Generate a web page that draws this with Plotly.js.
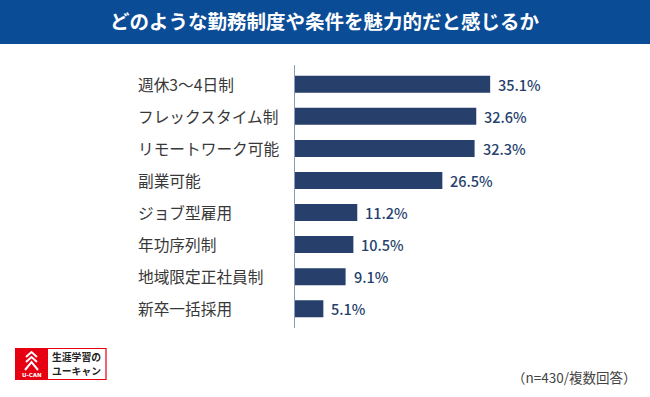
<!DOCTYPE html>
<html><head><meta charset="utf-8">
<script src="https://cdn.plot.ly/plotly-3.0.1.min.js"></script>
<style>html,body{margin:0;padding:0;background:#fff}#c{width:650px;height:397px}</style>
</head><body><div id="c"></div>
<script>
var categories = ["週休3～4日制","フレックスタイム制","リモートワーク可能","副業可能","ジョブ型雇用","年功序列制","地域限定正社員制","新卒一括採用"];
var values = [35.1, 32.6, 32.3, 26.5, 11.2, 10.5, 9.1, 5.1];
var titleText = "どのような勤務制度や条件を魅力的だと感じるか";
var noteText = "（n=430/複数回答）";
var logoLines = ["生涯学習の","ユーキャン"];

var W=650,H=397, L=295, R=77, T=65, B=69;
var pw=W-L-R, ph=H-T-B;
function px(x){return (x-L)/pw;}
function py(y){return (H-B-y)/ph;}
var JP = '"Noto Sans CJK JP", "Noto Sans", sans-serif';

var trace = {
  type:'bar', orientation:'h', x:values, y:categories,
  marker:{color:'#263f6b'}, width:0.53,
  textposition:'none', hoverinfo:'skip'
};

var annotations = [];
categories.forEach(function(c,i){
  annotations.push({xref:'paper',yref:'y',x:px(136),y:c,text:c,showarrow:false,xanchor:'left',
    font:{family:JP,size:15.7,color:'#383838'}});
  annotations.push({xref:'x',yref:'y',x:values[i],y:c,text:values[i].toFixed(1)+'%',showarrow:false,xanchor:'left',xshift:6,
    font:{family:JP,size:14.5,color:'#263f6b',weight:500}});
});
annotations.push({xref:'paper',yref:'paper',x:px(325),y:py(21),text:'<b>'+titleText+'</b>',showarrow:false,
  xanchor:'center',yanchor:'middle',font:{family:JP,size:19.5,color:'#ffffff'}});
annotations.push({xref:'paper',yref:'paper',x:px(639),y:py(377),text:noteText,showarrow:false,
  xanchor:'right',yanchor:'middle',font:{family:JP,size:13.5,color:'#444444'}});
annotations.push({xref:'paper',yref:'paper',x:px(76),y:py(357),text:'<b>'+logoLines[0]+'</b>',showarrow:false,
  xanchor:'center',yanchor:'middle',font:{family:JP,size:9.8,color:'#222222'}});
annotations.push({xref:'paper',yref:'paper',x:px(76),y:py(371),text:'<b>'+logoLines[1]+'</b>',showarrow:false,
  xanchor:'center',yanchor:'middle',font:{family:JP,size:9.8,color:'#222222'}});
annotations.push({xref:'paper',yref:'paper',x:px(31.5),y:py(374.5),text:'<b>U-CAN</b>',showarrow:false,
  xanchor:'center',yanchor:'middle',font:{family:'DejaVu Sans',size:5.5,color:'#ffffff'}});

function Pl(pts){ return 'M'+pts.map(function(p){return px(p[0])+','+py(p[1]);}).join(' L'); }

var shapes = [
  {type:'rect',xref:'paper',yref:'paper',x0:px(0),x1:px(650),y0:py(0),y1:py(44),fillcolor:'#0b4c97',line:{width:0},layer:'below'},
  {type:'rect',xref:'paper',yref:'paper',x0:px(47),x1:px(106),y0:py(348.5),y1:py(379.5),fillcolor:'#ffffff',line:{color:'#e60012',width:1.2}},
  {type:'rect',xref:'paper',yref:'paper',x0:px(15),x1:px(48),y0:py(348),y1:py(380),fillcolor:'#e60012',line:{width:0}},
  {type:'path',xref:'paper',yref:'paper',path:Pl([[26,357],[31.5,352],[37,357]]),line:{color:'#ffffff',width:2}},
  {type:'path',xref:'paper',yref:'paper',path:Pl([[26,362],[31.5,357],[37,362]]),line:{color:'#ffffff',width:2}},
  {type:'path',xref:'paper',yref:'paper',path:Pl([[25,370],[31.5,362],[38,370]]),line:{color:'#ffffff',width:2}}
];

var layout = {
  width:W,height:H,margin:{l:L,r:R,t:T,b:B},
  paper_bgcolor:'#ffffff',plot_bgcolor:'rgba(0,0,0,0)',
  showlegend:false,
  xaxis:{range:[0,50],visible:false,fixedrange:true},
  yaxis:{type:'category',range:[7.6,-0.6],showticklabels:false,ticks:'',showgrid:false,zeroline:false,
    showline:true,linecolor:'#8c9cb8',linewidth:1.5,fixedrange:true},
  annotations:annotations, shapes:shapes
};
Plotly.newPlot('c',[trace],layout,{displayModeBar:false,staticPlot:true});
</script></body></html>
